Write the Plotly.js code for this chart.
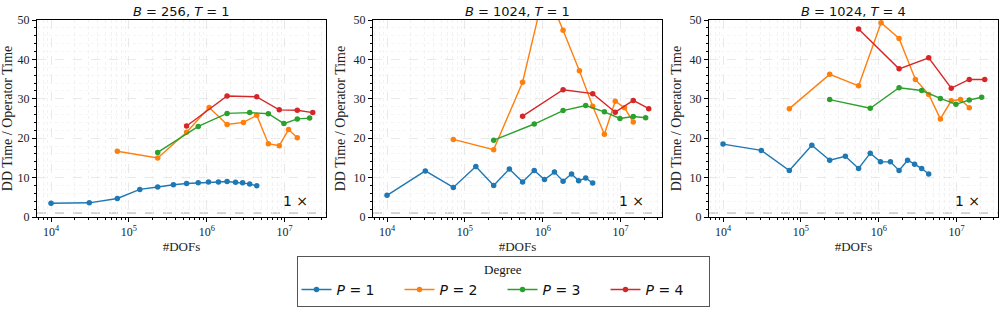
<!DOCTYPE html>
<html>
<head>
<meta charset="utf-8">
<script src="https://cdn.plot.ly/plotly-3.0.1.min.js"></script>
<style>html,body{margin:0;padding:0;background:#fff;}#chart{width:1006px;height:333px;}</style>
</head>
<body>
<div id="chart"></div>
<script>
// ---- data ----
const panelTitles = ["<i>B</i> = 256, <i>T</i> = 1", "<i>B</i> = 1024, <i>T</i> = 1", "<i>B</i> = 1024, <i>T</i> = 4"];
const seriesNames = ["<i>P</i> = 1", "<i>P</i> = 2", "<i>P</i> = 3", "<i>P</i> = 4"];
const seriesColors = ["#1f77b4", "#ff7f0e", "#2ca02c", "#d62728"];

const dofsP1 = [10000, 31000, 71000, 138000, 234000, 372000, 550000, 776000, 1050000, 1410000, 1820000, 2340000, 2880000, 3550000, 4370000];
const dofsP2 = [71000, 234000, 550000, 1070000, 1820000, 2950000, 4370000, 6170000, 8510000, 11200000, 14500000];
const dofsP3 = [234000, 776000, 1820000, 3550000, 6170000, 9770000, 14500000, 20900000];
const dofsP4 = [550000, 1820000, 4370000, 8510000, 14500000, 22900000];

// panel 1: B=256, T=1
const p1_P1 = [3.5, 3.6, 4.7, 7.0, 7.6, 8.2, 8.5, 8.7, 8.9, 8.9, 9.0, 8.8, 8.7, 8.4, 7.9];
const p1_P2 = [16.7, 15.0, 21.5, 27.8, 23.5, 24.0, 25.8, 18.6, 18.1, 22.2, 20.1];
const p1_P3 = [16.4, 23.0, 26.3, 26.5, 26.2, 23.7, 24.9, 25.1];
const p1_P4 = [23.1, 30.7, 30.5, 27.2, 27.1, 26.5];

// panel 2: B=1024, T=1
const p2_P1 = [5.5, 11.7, 7.5, 12.8, 8.0, 12.2, 8.9, 11.8, 9.5, 11.4, 9.1, 10.9, 9.2, 9.9, 8.6];
const p2_P2 = [19.7, 17.1, 34.2, 58.3, 47.4, 37.1, 28.1, 21.0, 29.4, 27.7, 24.1];
const p2_P3 = [19.5, 23.6, 27.0, 28.3, 26.7, 25.0, 25.5, 25.2];
const p2_P4 = [25.6, 32.3, 31.3, 26.6, 29.6, 27.5];

// panel 3: B=1024, T=4
const p3_P1 = [18.5, 16.9, 11.8, 18.2, 14.4, 15.4, 12.3, 16.2, 14.0, 14.0, 11.8, 14.4, 13.4, 12.3, 10.9];
const p3_P2 = [27.5, 36.2, 33.3, 49.3, 45.3, 34.9, 31.1, 24.9, 29.5, 29.8, 27.7];
const p3_P3 = [29.8, 27.6, 32.8, 32.1, 30.1, 28.6, 29.7, 30.4];
const p3_P4 = [47.7, 37.6, 40.4, 32.7, 34.9, 34.9];

const baselineRatio = 1;
const xTickVals = [1e4, 1e5, 1e6, 1e7];
const xTickText = ["10<sup>4</sup>", "10<sup>5</sup>", "10<sup>6</sup>", "10<sup>7</sup>"];
const yLabel = "DD Time / Operator Time";
const xLabel = "#DOFs";
const legendTitle = "Degree";
const baselineText = "1 ×";

// ---- build ----
const dofs = [dofsP1, dofsP2, dofsP3, dofsP4];
const panels = [[p1_P1, p1_P2, p1_P3, p1_P4], [p2_P1, p2_P2, p2_P3, p2_P4], [p3_P1, p3_P2, p3_P3, p3_P4]];
const domainsX = [[37/1006, 326/1006], [373/1006, 662/1006], [709/1006, 998/1006]];
const domainY = [116/333, 313/333];

const minorX = [];
for (let e = 3; e <= 7; e++) for (let m = 2; m <= 9; m++) minorX.push(m * Math.pow(10, e));

const serif = "Liberation Serif, Times New Roman, serif";
const sans = "DejaVu Sans, sans-serif";

const traces = [];
const layout = {
  width: 1006, height: 333,
  margin: {l: 0, r: 0, t: 0, b: 0},
  paper_bgcolor: "#fff", plot_bgcolor: "#fff",
  showlegend: true,
  annotations: [], shapes: [],
  legend: {
    orientation: "h", x: 0.5, xanchor: "center", y: 1 - 256/333, yanchor: "top",
    bgcolor: "#fff", bordercolor: "#555", borderwidth: 1,
    font: {family: sans, size: 14, color: "#111"},
    title: {text: legendTitle, side: "top center", font: {family: serif, size: 13, color: "#111"}},
    entrywidth: 58, itemwidth: 30, tracegroupgap: 0
  }
};

panels.forEach((series, pi) => {
  const ax = pi === 0 ? "" : String(pi + 1);
  series.forEach((vals, si) => {
    traces.push({
      x: dofs[si], y: vals, type: "scatter", mode: "lines+markers",
      name: seriesNames[si], legendgroup: "g" + si, showlegend: pi === 0,
      line: {color: seriesColors[si], width: 1.4},
      marker: {color: seriesColors[si], size: 5.5},
      xaxis: "x" + ax, yaxis: "y" + ax, cliponaxis: true
    });
  });
  layout["xaxis" + ax] = {
    type: "log", domain: domainsX[pi], range: [3.82, 7.53], anchor: "y" + ax,
    tickmode: "array", tickvals: xTickVals, ticktext: xTickText,
    ticks: "outside", ticklen: 4, tickcolor: "#000",
    showline: true, mirror: true, linecolor: "#000", linewidth: 1,
    showgrid: true, gridcolor: "#e3e3e3", griddash: "dash", gridwidth: 0.8,
    minor: {tickmode: "array", tickvals: minorX, ticks: "outside", ticklen: 2, tickcolor: "#000",
            showgrid: true, gridcolor: "#efefef", griddash: "dot", gridwidth: 0.8},
    tickfont: {family: serif, size: 12, color: "#222"},
    title: {text: xLabel, font: {family: serif, size: 13, color: "#222"}, standoff: 3},
    zeroline: false
  };
  layout["yaxis" + ax] = {
    domain: domainY, range: [0, 50], anchor: "x" + ax,
    tickmode: "linear", tick0: 0, dtick: 10,
    ticks: "outside", ticklen: 4, tickcolor: "#000",
    showline: true, mirror: true, linecolor: "#000", linewidth: 1,
    showgrid: true, gridcolor: "#e3e3e3", griddash: "dash", gridwidth: 0.8,
    minor: {dtick: 2, ticks: "outside", ticklen: 2, tickcolor: "#000",
            showgrid: true, gridcolor: "#f3f3f3", griddash: "dot", gridwidth: 0.8},
    tickfont: {family: serif, size: 12, color: "#222"},
    title: {text: yLabel, font: {family: serif, size: 14, color: "#222"}, standoff: 4},
    zeroline: false
  };
  layout.annotations.push({
    text: panelTitles[pi], xref: "x" + ax + " domain", yref: "paper",
    x: 0.5, y: 1 - 11/333, xanchor: "center", yanchor: "middle", showarrow: false,
    font: {family: sans, size: 13, color: "#111"}
  });
  layout.annotations.push({
    text: baselineText, xref: "x" + ax + " domain", yref: "y" + ax + " domain",
    x: 0.945, y: 0.03, xanchor: "right", yanchor: "bottom", showarrow: false,
    font: {family: sans, size: 14, color: "#111"}
  });
  layout.shapes.push({
    type: "line", xref: "x" + ax + " domain", yref: "y" + ax,
    x0: 0, x1: 1, y0: baselineRatio, y1: baselineRatio,
    line: {color: "#aaaaaa", width: 1, dash: "dash"}, layer: "below"
  });
});

Plotly.newPlot("chart", traces, layout, {displayModeBar: false, staticPlot: true});
</script>
</body>
</html>
